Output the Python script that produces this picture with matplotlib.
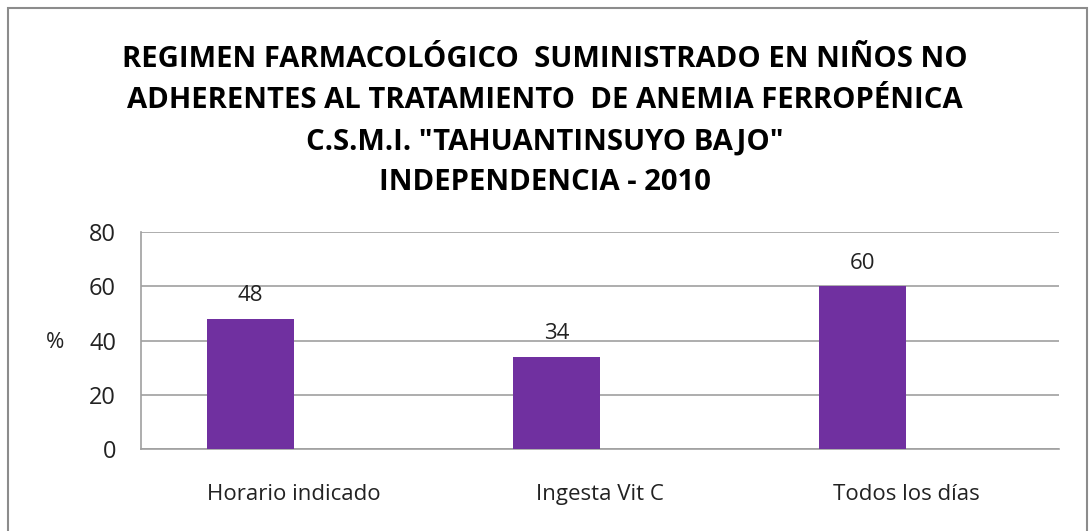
import matplotlib
matplotlib.use("Agg")
import matplotlib.pyplot as plt
from matplotlib.patches import Rectangle

categories = ["Horario indicado", "Ingesta Vit C", "Todos los días"]
values = [48, 34, 60]
yticks = [0, 20, 40, 60, 80]
title_lines = [
    "REGIMEN FARMACOLÓGICO  SUMINISTRADO EN NIÑOS NO",
    "ADHERENTES AL TRATAMIENTO  DE ANEMIA FERROPÉNICA",
    "C.S.M.I. \"TAHUANTINSUYO BAJO\"",
    "INDEPENDENCIA - 2010",
]

plt.rcParams['font.family'] = ['Open Sans', 'DejaVu Sans']
TXT = '#222222'

fig = plt.figure(figsize=(10.91, 5.31), dpi=100)
fig.patch.set_facecolor('white')

# outer chart border
fig.patches.append(Rectangle((8/1091, -0.05), (1087-8)/1091, 1.05 - 8/531,
                             transform=fig.transFigure, fill=False,
                             edgecolor='#8c8c8c', linewidth=1.5))

ax = fig.add_axes([141/1091, 1-449/531, (1059-141)/1091, (449-232)/531])
x = list(range(len(categories)))
bw = 87/306
ax.bar([i - bw/2 for i in x], values, width=bw, color='#7030A0', zorder=3)
for i, v in zip(x, values):
    ax.text(i - bw/2, v + 8.5, str(v), ha='center', va='center', fontsize=16, color=TXT)

ax.set_xlim(-0.5, 2.5)
ax.set_ylim(0, 80)
ax.set_yticks(yticks)
ax.set_yticklabels([str(t) for t in yticks], fontsize=17, color=TXT)
ax.set_xticks(x)
ax.set_xticklabels(categories, fontsize=16, color=TXT)
ax.tick_params(axis='both', length=0)
ax.tick_params(axis='y', pad=18)
ax.tick_params(axis='x', pad=25)
ax.grid(axis='y', color='#a0a0a0', linewidth=1.2, zorder=0)
for s in ['top', 'right']:
    ax.spines[s].set_visible(False)
for s in ['left', 'bottom']:
    ax.spines[s].set_color('#a0a0a0')
    ax.spines[s].set_linewidth(1.2)

fig.text(55/1091, 1-342/531, "%", fontsize=16, ha='center', va='center', color=TXT)

baselines = [67, 108.5, 150, 190]
for line, y in zip(title_lines, baselines):
    fig.text(545/1091, 1-y/531, line, fontsize=21.1, fontweight='bold', ha='center', va='baseline',
             color='#000000')

fig.savefig("out.png", dpi=100)
